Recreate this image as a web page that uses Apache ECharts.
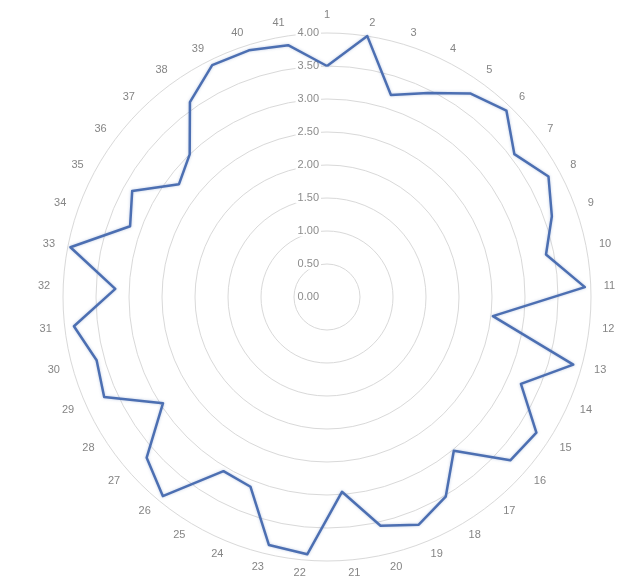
<!DOCTYPE html>
<html>
<head>
<meta charset="utf-8">
<script src="https://cdn.jsdelivr.net/npm/echarts@6/dist/echarts.min.js"></script>
<style>
  html, body { margin: 0; padding: 0; background: #fff; }
  #chart { width: 624px; height: 578px; }
</style>
</head>
<body>
<div id="chart"></div>
<script>
// Spoke labels, in clockwise order starting at the top
const categories = ['1','2','3','4','5','6','7','8','9','10','11','12','13','14','15','16','17','18','19','20',
  '21','22','23','24','25','26','27','28','29','30','31','32','33','34','35','36','37','38','39','40','41'];

// Score for each spoke
const values = [3.50, 4.00, 3.21, 3.45, 3.77, 3.92, 3.57, 3.82, 3.62, 3.38,
  3.91, 2.53, 3.87, 3.22, 3.78, 3.72, 3.02, 3.52, 3.72, 3.56,
  2.96, 3.91, 3.86, 3.10, 3.07, 3.91, 3.66, 2.96, 3.70, 3.62,
  3.86, 3.21, 3.96, 3.17, 3.36, 2.82, 3.00, 3.61, 3.92, 3.92, 3.86];

// Scale of the rings
const scaleMin = 0;
const scaleMax = 4;
const ringCount = 8;

// ECharts lays radar spokes out counter-clockwise; walk the list backwards
// after the first spoke so the spokes read clockwise.
const order = [0];
for (let i = categories.length - 1; i >= 1; i--) order.push(i);

const indicators = order.map(i => ({ name: categories[i], min: scaleMin, max: scaleMax }));
// Only the top spoke carries the ring values
indicators[0].axisLabel = {
  show: true,
  color: '#8c8c8c',
  fontSize: 11,
  fontFamily: 'Liberation Sans',
  margin: 6,
  backgroundColor: '#fff',
  padding: [0, 2],
  formatter: v => Number(v).toFixed(2)
};

const chart = echarts.init(document.getElementById('chart'), null, { renderer: 'canvas' });
chart.setOption({
  backgroundColor: '#fff',
  animation: false,
  radar: {
    center: [327, 297],
    radius: 264,
    startAngle: 90,
    shape: 'circle',
    splitNumber: ringCount,
    indicator: indicators,
    nameGap: 13,
    axisName: {
      color: '#858585',
      fontSize: 11,
      fontFamily: 'Liberation Sans'
    },
    axisLine: { show: false },
    axisTick: { show: false },
    axisLabel: { show: false },
    splitLine: { lineStyle: { color: '#d9d9d9', width: 1 } },
    splitArea: { show: false }
  },
  series: [{
    type: 'radar',
    symbol: 'none',
    lineStyle: {
      color: '#4c6fb2',
      width: 2.5,
      shadowBlur: 3,
      shadowColor: 'rgba(76,111,178,0.35)'
    },
    data: [{ value: order.map(i => values[i]) }]
  }]
});
</script>
</body>
</html>
